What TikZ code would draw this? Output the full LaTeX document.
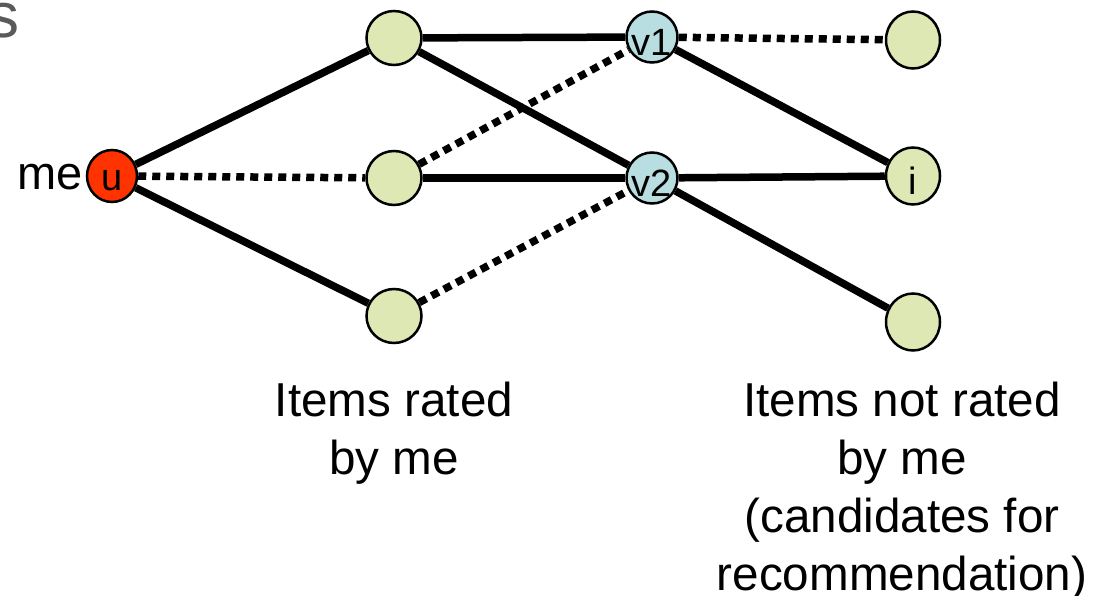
\documentclass[tikz,border=0pt]{standalone}
\usepackage{fontspec}
\setmainfont{Liberation Sans}
\usetikzlibrary{shapes.geometric,backgrounds}
\definecolor{itemgreen}{RGB}{221,232,180}
\definecolor{userblue}{RGB}{184,222,225}
\definecolor{mered}{RGB}{255,51,0}
\definecolor{titlegray}{RGB}{90,90,90}
\begin{document}
\begin{tikzpicture}[x=1pt,y=-1pt,
  nodebase/.style={ellipse,draw=black,line width=2.5pt,inner sep=0pt},
  item/.style={nodebase,fill=itemgreen,minimum width=55pt,minimum height=54pt},
  cand/.style={nodebase,fill=itemgreen,minimum width=54pt,minimum height=57pt},
  peer/.style={nodebase,fill=userblue,minimum width=51pt,minimum height=51pt},
  me/.style={nodebase,fill=mered,minimum width=50pt,minimum height=52pt},
  lbl/.style={font=\fontsize{38}{38}\selectfont,inner sep=0pt,yshift=-5pt},
  solidedge/.style={line width=7.5pt},
  dotedge/.style={line width=7.5pt,dash pattern=on 8pt off 6pt},
  txt/.style={font=\fontsize{47.6}{58}\selectfont,align=center,inner sep=0pt}
]
\useasboundingbox (0,0) rectangle (1103,596);

\node[font=\fontsize{64}{64}\selectfont,text=titlegray,anchor=base west,inner sep=0pt] (title) at (-13,38) {s};

\node[me,label={[lbl]center:u}] (u) at (112,176) {};
\node[item] (g1) at (394,38) {};
\node[item] (g2) at (394,178) {};
\node[item] (g3) at (394,316) {};
\node[peer,label={[lbl]center:v1}] (v1) at (652,37) {};
\node[peer,label={[lbl]center:v2}] (v2) at (652,178) {};
\node[cand] (r1) at (913,40) {};
\node[cand,label={[lbl]center:i}] (ri) at (913,176) {};
\node[cand] (r3) at (913,322) {};

\node[font=\fontsize{47}{47}\selectfont,anchor=base east,inner sep=0pt] (melabel) at (83,190) {me};

\begin{pgfonlayer}{background}
\draw[solidedge] (u) -- (g1);
\draw[solidedge] (u) -- (g3);
\draw[dotedge] (u) -- (g2);
\draw[solidedge] (g1) -- (v1);
\draw[solidedge] (g1) -- (v2);
\draw[solidedge] (g2) -- (v2);
\draw[dotedge] (g2) -- (v1);
\draw[dotedge] (g3) -- (v2);
\draw[dotedge] (v1) -- (r1);
\draw[solidedge] (v1) -- (ri);
\draw[solidedge] (v2) -- (ri);
\draw[solidedge] (v2) -- (r3);
\end{pgfonlayer}

\node[txt,anchor=north] (t1) at (394,382) {Items rated\\by me};
\node[txt,anchor=north] (t2) at (902,382) {Items not rated\\by me\\(candidates for\\recommendation)};
\end{tikzpicture}
\end{document}
